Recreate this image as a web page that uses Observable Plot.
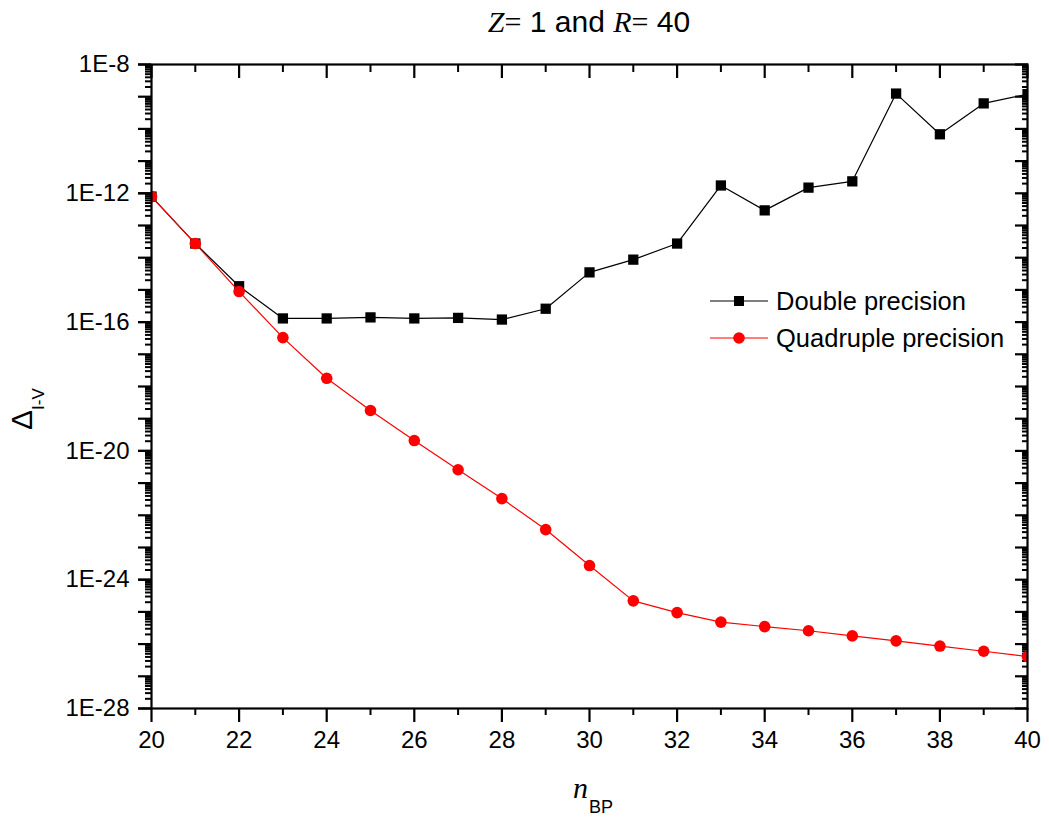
<!DOCTYPE html>
<html><head><meta charset="utf-8">
<script src="https://cdn.jsdelivr.net/npm/d3@7"></script>
<script src="https://cdn.jsdelivr.net/npm/@observablehq/plot@0.6"></script>
<style>
body{margin:0;background:#fff}
#chart svg{font-family:"Liberation Sans",Arial,sans-serif;background:#fff;overflow:visible}
</style>
</head><body><div id="chart"></div>
<script>
// ---- data ----
const nBP = [20,21,22,23,24,25,26,27,28,29,30,31,32,33,34,35,36,37,38,39,40];
const doublePrecision = [7.9e-13,2.75e-14,1.3e-15,1.3e-16,1.3e-16,1.4e-16,1.3e-16,1.35e-16,1.2e-16,2.6e-16,
  3.5e-15,8.7e-15,2.75e-14,1.75e-12,2.95e-13,1.5e-12,2.35e-12,1.25e-9,6.8e-11,6.2e-10,1.2e-9];
const quadruplePrecision = [7.9e-13,2.75e-14,8.9e-16,3.3e-17,1.8e-18,1.8e-19,2.1e-20,2.6e-21,3.3e-22,3.6e-23,
  2.75e-24,2.2e-25,9.5e-26,4.8e-26,3.5e-26,2.6e-26,1.8e-26,1.26e-26,8.7e-27,6.0e-27,4.1e-27];
const seriesNames = ["Double precision","Quadruple precision"];
const xMajorTicks = [20,22,24,26,28,30,32,34,36,38,40];
const xMinorTicks = [21,23,25,27,29,31,33,35,37,39];
const yLabelExps = [-8,-12,-16,-20,-24,-28];
const yDecadeExps = d3.range(-28,-7);

// ---- derived tables ----
const dData = nBP.map((n,i)=>({n, v: doublePrecision[i]}));
const qData = nBP.map((n,i)=>({n, v: quadruplePrecision[i]}));
const yLabelTicks = yLabelExps.map(k=>+("1e"+k));
const yDecadeTicks = yDecadeExps.map(k=>+("1e"+k));
const yMinorTicks = [];
for (const k of yDecadeExps.slice(0,-1)) for (let m=2;m<=9;m++) yMinorTicks.push(+(m+"e"+k));
const fmtE = d => "1E" + Math.round(Math.log10(d));
const blank = () => "";

const W = 1049, H = 820;
const chart = Plot.plot({
  width: W, height: H,
  marginLeft: 151, marginRight: 22, marginTop: 64, marginBottom: 112,
  style: {fontSize: "24px", fontFamily: '"Liberation Sans", Arial, sans-serif', color: "#000"},
  x: {domain: [20,40]},
  y: {type: "log", domain: [1e-28, 1e-8]},
  marks: [
    // left axis (outward ticks)
    Plot.axisY({anchor:"left", ticks: yMinorTicks, tickSize: 6, strokeWidth: 2, tickFormat: blank, label: null}),
    Plot.axisY({anchor:"left", ticks: yDecadeTicks, tickSize: 13, strokeWidth: 2.2, tickFormat: blank, label: null}),
    Plot.axisY({anchor:"left", ticks: yLabelTicks, tickSize: 13, strokeWidth: 2.2, tickPadding: 9, tickFormat: fmtE, label: null, fontSize: 24}),
    // right axis (inward ticks)
    Plot.axisY({anchor:"right", ticks: yMinorTicks, tickSize: 6, dx: -6, strokeWidth: 2, tickFormat: blank, label: null}),
    Plot.axisY({anchor:"right", ticks: yDecadeTicks, tickSize: 13, dx: -13, strokeWidth: 2.2, tickFormat: blank, label: null}),
    // bottom axis (outward)
    Plot.axisX({anchor:"bottom", ticks: xMinorTicks, tickSize: 7, strokeWidth: 2, tickFormat: blank, label: null}),
    Plot.axisX({anchor:"bottom", ticks: xMajorTicks, tickSize: 14, strokeWidth: 2.2, tickPadding: 8, tickFormat: d=>String(d), label: null, fontSize: 24}),
    // top axis (inward)
    Plot.axisX({anchor:"top", ticks: xMinorTicks, tickSize: 7, dy: 7, strokeWidth: 2, tickFormat: blank, label: null}),
    Plot.axisX({anchor:"top", ticks: xMajorTicks, tickSize: 13, dy: 13, strokeWidth: 2.2, tickFormat: blank, label: null}),
    // data
    Plot.line(dData, {x:"n", y:"v", stroke:"#000", strokeWidth: 1.2, clip: true}),
    Plot.dot(dData, {x:"n", y:"v", symbol:"square", r: 5.8, fill:"#000", stroke: null, clip: true}),
    Plot.line(qData, {x:"n", y:"v", stroke:"#ff0000", strokeWidth: 1.2, clip: true}),
    Plot.dot(qData, {x:"n", y:"v", symbol:"circle", r: 5.8, fill:"#ff0000", stroke: null, clip: true}),
    Plot.frame({stroke:"#000", strokeWidth: 2.2})
  ]
});
document.getElementById("chart").appendChild(chart);

const svg = d3.select(chart);
const serif = '"Liberation Serif","Times New Roman",serif';
const sans = '"Liberation Sans",Arial,sans-serif';

// title
const t = svg.append("text").attr("x", 589).attr("y", 32).attr("text-anchor","middle")
  .attr("font-size", 30).attr("fill","#000");
t.append("tspan").attr("font-family", serif).attr("font-style","italic").text("Z");
t.append("tspan").attr("font-family", serif).text("=");
t.append("tspan").attr("font-family", sans).text(" 1 and ");
t.append("tspan").attr("font-family", serif).attr("font-style","italic").text("R");
t.append("tspan").attr("font-family", serif).text("=");
t.append("tspan").attr("font-family", sans).text(" 40");

// x label
const xl = svg.append("text").attr("x", 573).attr("y", 798).attr("fill","#000").attr("text-anchor","start");
xl.append("tspan").attr("font-family", serif).attr("font-style","italic").attr("font-size", 30).text("n");
xl.append("tspan").attr("font-family", sans).attr("font-size", 18).attr("dy", 15).attr("dx", 1).text("BP");

// y label
const yl = svg.append("text").attr("transform","translate(32,430) rotate(-90)").attr("fill","#000").attr("text-anchor","start");
yl.append("tspan").attr("font-family", sans).attr("font-size", 30).text("\u0394");
yl.append("tspan").attr("font-family", sans).attr("font-size", 17).attr("dy", 12).text("I-V");

// legend
const lg = svg.append("g");
const legendRows = [
  {name: seriesNames[0], color:"#000", sym: "square", y: 301},
  {name: seriesNames[1], color:"#ff0000", sym: "circle", y: 338}
];
for (const r of legendRows) {
  lg.append("line").attr("x1",710).attr("x2",768).attr("y1",r.y).attr("y2",r.y)
    .attr("stroke",r.color).attr("stroke-width",1.2);
  if (r.sym === "square") lg.append("rect").attr("x",739-5).attr("y",r.y-5).attr("width",10).attr("height",10).attr("fill",r.color);
  else lg.append("circle").attr("cx",739).attr("cy",r.y).attr("r",5.8).attr("fill",r.color);
  lg.append("text").attr("x",776).attr("y",r.y+9).attr("text-anchor","start").attr("font-family",sans).attr("font-size",25.5).attr("fill","#000").text(r.name);
}
</script>
</body></html>
